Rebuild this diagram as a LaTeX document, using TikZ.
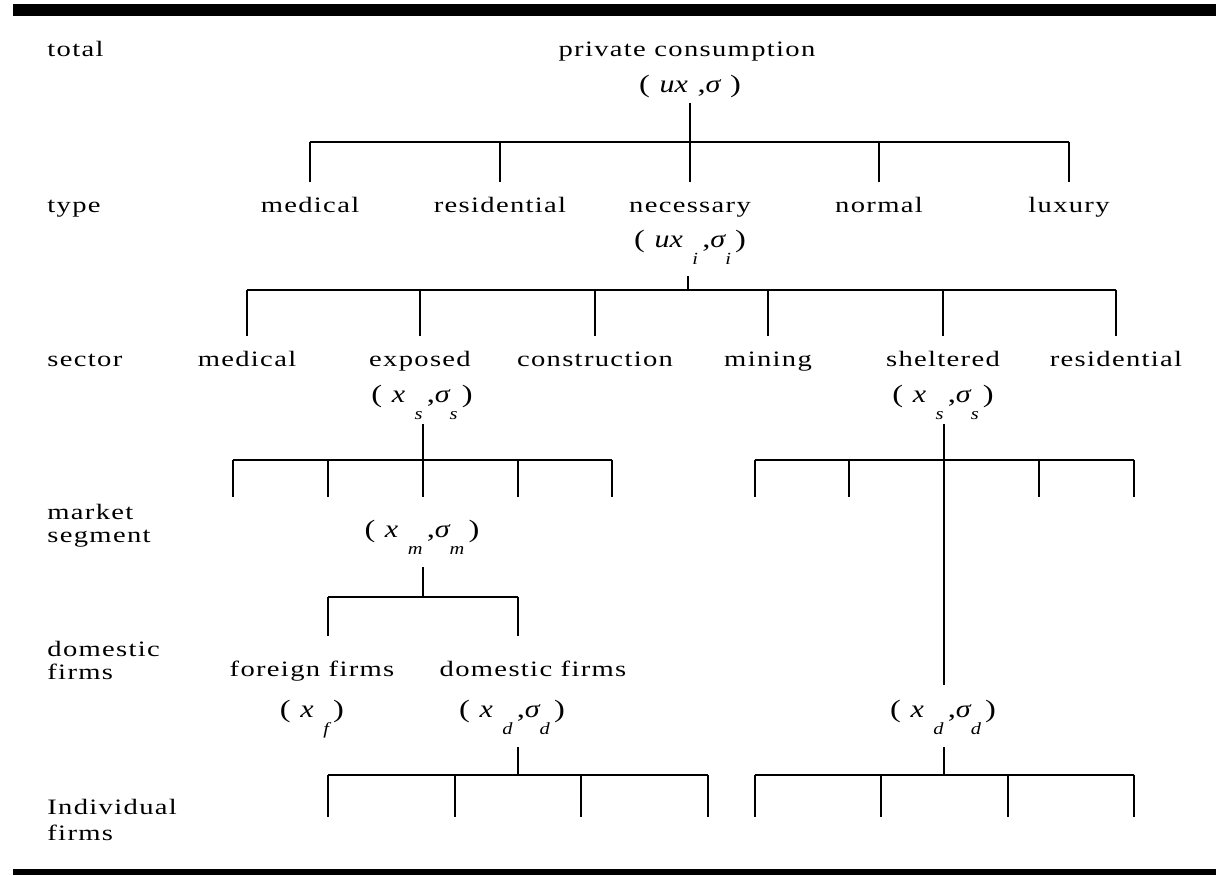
\documentclass[tikz,border=0pt]{standalone}
\usepackage{fontspec}
\setmainfont{Liberation Serif}[FakeStretch=1.3,LetterSpace=6]
\newfontfamily\vfam{Liberation Serif}[FakeStretch=1.2]
\newcommand\sub[1]{\raisebox{-1.55ex}{\fontsize{8.5}{10}\selectfont\vfam\itshape #1}}
\newcommand\sig{{\vfam\itshape σ}}
\newcommand\vv[1]{{\vfam\itshape #1}}
\begin{document}
\begin{tikzpicture}[x=0.5pt,y=-0.5pt,
  lbl/.style={font=\fontsize{11}{11.5}\selectfont, anchor=base west, align=left, inner sep=0pt},
  txt/.style={font=\fontsize{11}{11.5}\selectfont, inner sep=0pt, anchor=base},
  mth/.style={font=\fontsize{12.5}{14}\selectfont, inner sep=0pt, anchor=base},
  ln/.style={line width=0.55pt}]
\useasboundingbox (0,0) rectangle (1216,875);
\fill (13,4) rectangle (1216,16);
\fill (13,869) rectangle (1216,875);
% left labels (base = baseline of last line)
\node[lbl] (Ltot) at (47,56) {total};
\node[lbl] (Ltyp) at (47,212) {type};
\node[lbl] (Lsec) at (47,366) {sector};
\node[lbl] (Lmkt) at (47,542) {market\\segment};
\node[lbl] (Ldom) at (47,679) {domestic\\firms};
\node[lbl] (Lind) at (47,840) {Individual\\[1.5pt]firms};
% level 0
\node[txt] (pc) at (687,56) {private consumption};
\node[mth] (pcm) at (690,92) {(\ \vv{ux}\ ,\sig\ )};
\coordinate (t0) at (690,103);
\coordinate (b0) at (690,142);
\draw[ln] (t0) -- (b0);
\coordinate (b0l) at (310,142);
\coordinate (b0r) at (1069,142);
\draw[ln] (b0l) -- (b0r);
\foreach \x/\n/\t in {310/med/medical,500/res/residential,690/nec/necessary,879/nor/normal,1069/lux/luxury}{
  \node[txt] (\n) at (\x,212) {\t};
  \coordinate (\n top) at (\x,142);
  \coordinate (\n bot) at (\x,182);
  \draw[ln] (\n top) -- (\n bot);
}
\node[mth] (necm) at (690,247) {(\ \vv{ux}\ \sub{i}\,,\sig\sub{i}\,)};
\coordinate (t1) at (688,276);
\coordinate (b1) at (688,290);
\draw[ln] (t1) -- (b1);
\coordinate (b1l) at (247,290);
\coordinate (b1r) at (1116,290);
\draw[ln] (b1l) -- (b1r);
\foreach \x/\n/\t in {247/smed/medical,420/sexp/exposed,595/scon/construction,768/smin/mining,943/sshe/sheltered,1116/sres/residential}{
  \node[txt] (\n) at (\x,366) {\t};
  \coordinate (\n top) at (\x,290);
  \coordinate (\n bot) at (\x,336);
  \draw[ln] (\n top) -- (\n bot);
}
\node[mth] (expm) at (422,402) {(\ \vv{x}\ \sub{s}\,,\sig\sub{s}\,)};
\node[mth] (shem) at (943,402) {(\ \vv{x}\ \sub{s}\,,\sig\sub{s}\,)};
% exposed subtree
\coordinate (t2) at (423,424);
\coordinate (b2) at (423,460);
\draw[ln] (t2) -- (b2);
\coordinate (b2l) at (233,460);
\coordinate (b2r) at (612,460);
\draw[ln] (b2l) -- (b2r);
\foreach \x/\n in {233/ea,328/eb,423/ec,518/ed,612/ee}{
  \coordinate (\n top) at (\x,460);
  \coordinate (\n bot) at (\x,497);
  \draw[ln] (\n top) -- (\n bot);
}
% sheltered subtree
\coordinate (t3) at (944,424);
\coordinate (b3) at (944,685);
\draw[ln] (t3) -- (b3);
\coordinate (b3l) at (755,460);
\coordinate (b3r) at (1134,460);
\draw[ln] (b3l) -- (b3r);
\foreach \x/\n in {755/ha,849/hb,1039/hd,1134/he}{
  \coordinate (\n top) at (\x,460);
  \coordinate (\n bot) at (\x,497);
  \draw[ln] (\n top) -- (\n bot);
}
% market segment
\node[mth] (mktm) at (422,537) {(\ \vv{x}\ \sub{m}\,,\sig\sub{m}\,)};
\coordinate (t4) at (423,567);
\coordinate (b4) at (423,597);
\draw[ln] (t4) -- (b4);
\coordinate (b4l) at (328,597);
\coordinate (b4r) at (518,597);
\draw[ln] (b4l) -- (b4r);
\coordinate (fa top) at (328,597);
\coordinate (fa bot) at (328,636);
\draw[ln] (fa top) -- (fa bot);
\coordinate (fb top) at (518,597);
\coordinate (fb bot) at (518,636);
\draw[ln] (fb top) -- (fb bot);
\node[txt] (forf) at (312,676) {foreign firms};
\node[txt] (domf) at (533,676) {domestic firms};
\node[mth] (form) at (312,717) {(\ \vv{x}\ \sub{f}\,)};
\node[mth] (domm) at (512,717) {(\ \vv{x}\ \sub{d}\,,\sig\sub{d}\,)};
\node[mth] (shdm) at (943,717) {(\ \vv{x}\ \sub{d}\,,\sig\sub{d}\,)};
% individual firms, left
\coordinate (t5) at (518,747);
\coordinate (b5) at (518,775);
\draw[ln] (t5) -- (b5);
\coordinate (b5l) at (328,775);
\coordinate (b5r) at (708,775);
\draw[ln] (b5l) -- (b5r);
\foreach \x/\n in {328/ia,455/ib,581/ic,708/id}{
  \coordinate (\n top) at (\x,775);
  \coordinate (\n bot) at (\x,817);
  \draw[ln] (\n top) -- (\n bot);
}
% individual firms, right
\coordinate (t6) at (944,747);
\coordinate (b6) at (944,775);
\draw[ln] (t6) -- (b6);
\coordinate (b6l) at (755,775);
\coordinate (b6r) at (1134,775);
\draw[ln] (b6l) -- (b6r);
\foreach \x/\n in {755/ja,881/jb,1008/jc,1134/jd}{
  \coordinate (\n top) at (\x,775);
  \coordinate (\n bot) at (\x,817);
  \draw[ln] (\n top) -- (\n bot);
}
\end{tikzpicture}
\end{document}
